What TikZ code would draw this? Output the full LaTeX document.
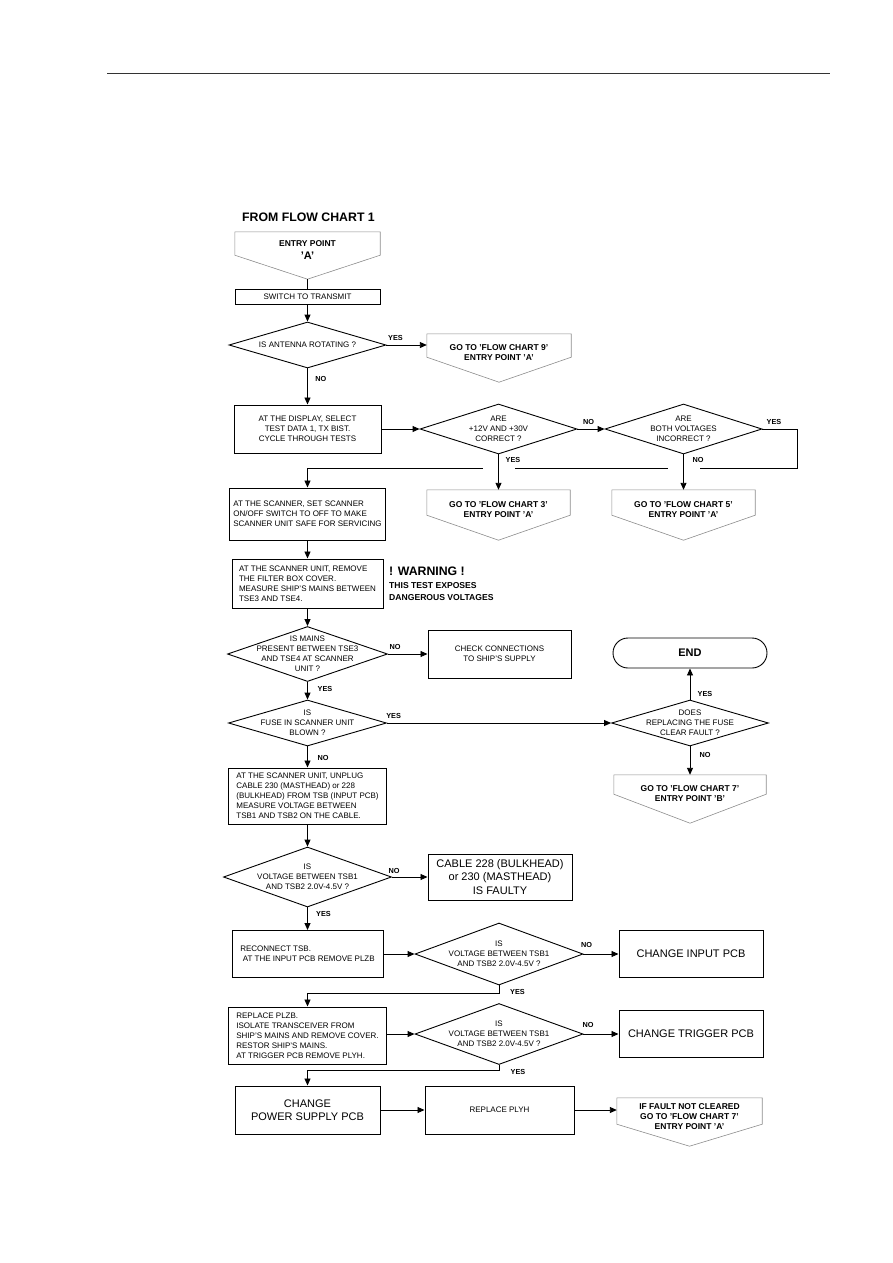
\documentclass[tikz,border=0pt]{standalone}
\usepackage{fontspec}
\setmainfont{Liberation Sans}
\usetikzlibrary{arrows.meta,shapes.geometric}

\newcommand{\fsml}{\fontsize{8}{10}\selectfont}
\newcommand{\fbig}{\fontsize{11}{13.5}\selectfont}
\newcommand{\fbld}{\fontsize{8.5}{10}\selectfont\bfseries}
\newcommand{\flab}{\fontsize{7.3}{8}\selectfont\bfseries}
\newcommand{\fhead}{\fontsize{12.3}{14}\selectfont\bfseries}
% text of a decision: no size, so the diamond keeps its own
\newcommand{\dtext}[1]{\smash{\makebox[0pt]{\raisebox{-2pt}{\begin{tabular}[c]{@{}c@{}}#1\end{tabular}}}}}

\begin{document}
\begin{tikzpicture}[x=1pt, y=-1pt,
  >={Triangle[length=7pt, width=6pt]},
  box/.style={draw, line width=1pt, inner sep=2pt, font=\fsml, align=center},
  lbox/.style={box, align=left},
  bbox/.style={box, font=\fbig},
  wh/.style 2 args={minimum width=#1pt, minimum height=#2pt},
  dec/.style={draw, diamond, line width=0.9pt, inner sep=0pt, font=\fsml},
  gate/.style={inner sep=0pt, font=\fbld, align=center, text depth=11pt},
  gateline/.style={draw=black!45, line width=0.6pt},
  term/.style={draw, rounded corners=15pt, line width=0.9pt, font=\fontsize{11}{12}\selectfont\bfseries},
  yn/.style={font=\flab, inner sep=0pt},
  arr/.style={->, line width=0.9pt},
  link/.style={line width=0.9pt}]
  \useasboundingbox (0,0) rectangle (893,1263);
  \draw[line width=0.7pt, black!80] (107,73) -- (830,73);

  \node[font=\fhead] (from) at (308.5,217) {FROM FLOW CHART 1};
  \node[gate, wh={145}{47}] (ea) at (307.5,255.5) {ENTRY POINT\\[3pt]{\fontsize{11}{12}\selectfont 'A'}};
  \node[box, wh={145}{15}] (sw) at (307.5,296.5) {SWITCH TO TRANSMIT};
  \node[dec, wh={157}{46}] (d1) at (307.5,345) {\dtext{IS ANTENNA ROTATING ?}};
  \node[gate, wh={144}{48}] (g9) at (499,358) {GO TO 'FLOW CHART 9'\\ENTRY POINT 'A'};
  \node[box, wh={147}{48}] (disp) at (307.5,429) {AT THE DISPLAY, SELECT\\TEST DATA 1, TX BIST.\\CYCLE THROUGH TESTS};
  \node[dec, wh={157}{50}] (d2) at (498.5,429) {\dtext{ARE\\+12V AND +30V\\CORRECT ?}};
  \node[dec, wh={157}{50}] (d3) at (683.5,429) {\dtext{ARE\\BOTH VOLTAGES\\INCORRECT ?}};
  \node[gate, wh={143}{50}] (g3) at (498.5,515) {GO TO 'FLOW CHART 3'\\ENTRY POINT 'A'};
  \node[gate, wh={143}{50}] (g5) at (683.5,515) {GO TO 'FLOW CHART 5'\\ENTRY POINT 'A'};
  \coordinate (lp) at (797,468);
  \node[lbox, wh={156}{52}] (scan) at (307.5,514) {AT THE SCANNER, SET SCANNER\\ON/OFF SWITCH TO OFF TO MAKE\\SCANNER UNIT SAFE FOR SERVICING};
  \node[lbox, wh={151}{49}] (filt) at (307.5,583.5) {AT THE SCANNER UNIT, REMOVE\\THE FILTER BOX COVER.\\MEASURE SHIP'S MAINS BETWEEN\\TSE3 AND TSE4.};
  \node[anchor=west, align=left, inner sep=0pt, font=\fontsize{8.6}{12}\selectfont\bfseries] (warn) at (389,584)
    {{\fhead ! WARNING !}\\[1pt]THIS TEST EXPOSES\\DANGEROUS VOLTAGES};
  \node[dec, wh={160}{55}] (d4) at (307.5,654) {\dtext{IS MAINS\\PRESENT BETWEEN TSE3\\AND TSE4 AT SCANNER\\UNIT ?}};
  \node[box, wh={143}{48}] (chk) at (499.5,654) {CHECK CONNECTIONS\\TO SHIP'S SUPPLY};
  \node[term, wh={154}{30}] (fin) at (690,653) {END};
  \node[dec, wh={158}{46}] (d5) at (307.5,723) {\dtext{IS\\FUSE IN SCANNER UNIT\\BLOWN ?}};
  \node[dec, wh={157}{46}] (d6) at (690,723) {\dtext{DOES\\REPLACING THE FUSE\\CLEAR FAULT ?}};
  \node[gate, wh={152}{48}] (g7b) at (690,799) {GO TO 'FLOW CHART 7'\\ENTRY POINT 'B'};
  \node[lbox, wh={158}{56}] (unplug) at (307.5,796) {AT THE SCANNER UNIT, UNPLUG\\CABLE 230 (MASTHEAD) or 228\\(BULKHEAD) FROM TSB (INPUT PCB)\\MEASURE VOLTAGE BETWEEN\\TSB1 AND TSB2 ON THE CABLE.};
  \node[dec, wh={168}{60}] (d7) at (307.5,877) {\dtext{IS\\VOLTAGE BETWEEN TSB1\\AND TSB2 2.0V-4.5V ?}};
  \node[bbox, wh={144}{46}] (cable) at (500,877) {CABLE 228 (BULKHEAD)\\or 230 (MASTHEAD)\\IS FAULTY};
  \node[lbox, wh={151}{47}] (recon) at (307.5,954) {RECONNECT TSB.\\\hspace*{2.5pt}AT THE INPUT PCB REMOVE PLZB};
  \node[dec, wh={168}{62}] (d8) at (499,954) {\dtext{IS\\VOLTAGE BETWEEN TSB1\\AND TSB2 2.0V-4.5V ?}};
  \node[bbox, wh={144}{47}] (inpcb) at (691,954) {CHANGE INPUT PCB};
  \node[lbox, wh={158}{57}] (plzb) at (307.5,1035.5) {REPLACE PLZB.\\ISOLATE TRANSCEIVER FROM\\SHIP'S MAINS AND REMOVE COVER.\\RESTOR SHIP'S MAINS.\\AT TRIGGER PCB REMOVE PLYH.};
  \node[dec, wh={168}{61}] (d9) at (499,1034) {\dtext{IS\\VOLTAGE BETWEEN TSB1\\AND TSB2 2.0V-4.5V ?}};
  \node[bbox, wh={144}{47}] (trig) at (691,1034) {CHANGE TRIGGER PCB};
  \node[bbox, wh={145}{48}] (psu) at (307.5,1110) {CHANGE\\POWER SUPPLY PCB};
  \node[box, wh={149}{48}] (plyh) at (499.5,1110) {REPLACE PLYH};
  \node[gate, wh={145}{48}] (g7a) at (689.5,1122) {IF FAULT NOT CLEARED\\GO TO 'FLOW CHART 7'\\ENTRY POINT 'A'};

  % outlines of the off-page connectors
  \foreach \g/\dr in {ea/24, g9/25, g3/25, g5/25, g7b/29, g7a/22}
    \draw[gateline] (\g.north west) -- (\g.north east) -- ([yshift=\dr pt]\g.south east)
      -- (\g.south) -- ([yshift=\dr pt]\g.south west) -- cycle;

  % yes / no
  \node[yn] (ly1) at (395.5,337.7) {YES};
  \node[yn] (ln1) at (320.8,379.3) {NO};
  \node[yn] (ln2) at (588.5,422) {NO};
  \node[yn] (ly3) at (774,422) {YES};
  \node[yn] (ly2) at (513,460) {YES};
  \node[yn] (ln3) at (698,460) {NO};
  \node[yn] (ln4) at (395,646.7) {NO};
  \node[yn] (ly4) at (325,688.5) {YES};
  \node[yn] (ly5) at (393.6,716) {YES};
  \node[yn] (ln5) at (323,757.7) {NO};
  \node[yn] (ly6) at (705,694) {YES};
  \node[yn] (ln6) at (705,755) {NO};
  \node[yn] (ln7) at (394,870.7) {NO};
  \node[yn] (ly7) at (323.5,914.3) {YES};
  \node[yn] (ln8) at (586.5,945.3) {NO};
  \node[yn] (ly8) at (517.5,992) {YES};
  \node[yn] (ln9) at (588,1025) {NO};
  \node[yn] (ly9) at (518,1071.7) {YES};

  \draw[link] (ea.south) -- (sw.north);
  \draw[arr] (sw.south) -- (d1.north);
  \draw[arr] (d1.east) -- (d1.east -| g9.west);
  \draw[arr] (d1.south) -- (disp.north);
  \draw[arr] (disp.east) -- (d2.west);
  \draw[arr] (d2.east) -- (d3.west);
  \draw[arr] (d2.south) -- (g3.north);
  \draw[arr] (d3.south) -- (g5.north);
  \draw[arr] (d3.east) -| (lp) -- ([xshift=16pt]lp -| g5.north)
    ([xshift=-16pt]lp -| g5.north) -- ([xshift=16pt]lp -| g3.north)
    ([xshift=-16pt]lp -| g3.north) -- (lp -| scan.north) -- (scan.north);
  \draw[arr] (scan.south) -- (filt.north);
  \draw[arr] (filt.south) -- (d4.north);
  \draw[arr] (d4.east) -- (chk.west);
  \draw[arr] (d4.south) -- (d5.north);
  \draw[arr] (d5.east) -- (d6.west);
  \draw[arr] (d6.north) -- (fin.south);
  \draw[arr] (d6.south) -- (g7b.north);
  \draw[arr] (d5.south) -- (unplug.north);
  \draw[arr] (unplug.south) -- (d7.north);
  \draw[arr] (d7.east) -- (cable.west);
  \draw[arr] (d7.south) -- (recon.north);
  \draw[arr] (recon.east) -- (d8.west);
  \draw[arr] (d8.east) -- (inpcb.west);
  \draw[arr] (d8.south) -- ++(0,8) -| (plzb.north);
  \draw[arr] (plzb.east |- d9.west) -- (d9.west);
  \draw[arr] (d9.east) -- (trig.west);
  \draw[arr] (d9.south) -- ++(0,5) -| (psu.north);
  \draw[arr] (psu.east) -- (plyh.west);
  \draw[arr] (plyh.east) -- (plyh.east -| g7a.west);
\end{tikzpicture}
\end{document}
